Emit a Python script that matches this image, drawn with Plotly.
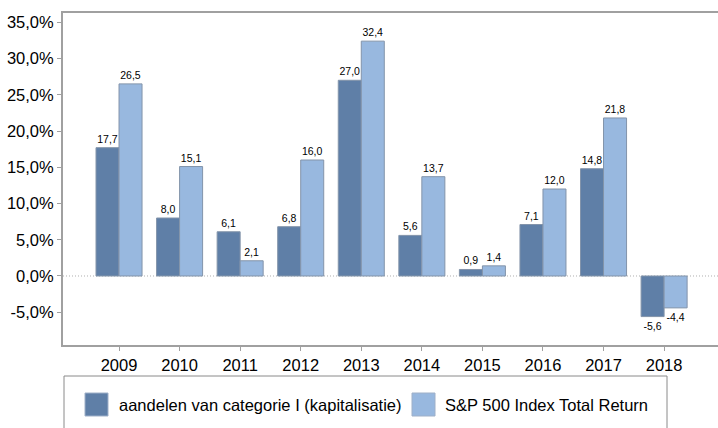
import plotly.graph_objects as go

# ---- data ----
years = ["2009", "2010", "2011", "2012", "2013", "2014", "2015", "2016", "2017", "2018"]
fund_values = [17.7, 8.0, 6.1, 6.8, 27.0, 5.6, 0.9, 7.1, 14.8, -5.6]
sp500_values = [26.5, 15.1, 2.1, 16.0, 32.4, 13.7, 1.4, 12.0, 21.8, -4.4]
series_names = ["aandelen van categorie I (kapitalisatie)", "S&P 500 Index Total Return"]
y_tick_values = [-5, 0, 5, 10, 15, 20, 25, 30, 35]


def nl(v, suffix=""):
    return f"{v:.1f}".replace(".", ",") + suffix


# ---- style ----
DARK = "#5F7FA7"
LIGHT = "#98B8DF"
EDGE = "#8394AA"
FONT = "Liberation Sans, Arial, sans-serif"
W, H = 718, 428
ML, MR, MT, MB = 63, 0, 13, 83


def px_x(p):
    return (p - ML) / (W - ML - MR)


def px_y(p):
    return (H - MB - p) / (H - MT - MB)


fig = go.Figure()
for name, vals, col in [(series_names[0], fund_values, DARK), (series_names[1], sp500_values, LIGHT)]:
    fig.add_trace(go.Bar(
        x=years, y=vals, name=name,
        marker=dict(color=col, line=dict(color=EDGE, width=1)),
        text=[nl(v) for v in vals], textposition="outside",
        textfont=dict(family=FONT, size=10.5, color="#000000"),
        constraintext="none", cliponaxis=False, showlegend=False,
    ))

shapes = [
    # dotted zero line
    dict(type="line", xref="paper", yref="y", x0=0, x1=1, y0=0, y1=0,
         line=dict(color="#B0B0B0", width=1, dash="1px,2px"), layer="below"),
    # legend frame
    dict(type="rect", xref="paper", yref="paper", x0=px_x(64), x1=px_x(667),
         y0=px_y(376), y1=px_y(440), line=dict(color="#8A8A8A", width=1)),
]
annotations = []
legend_items = [(85, 117, DARK, series_names[0]), (412, 443, LIGHT, series_names[1])]
for sx, tx, col, name in legend_items:
    shapes.append(dict(type="rect", xref="paper", yref="paper",
                       x0=px_x(sx), x1=px_x(sx + 23), y0=px_y(393), y1=px_y(416),
                       fillcolor=col, line=dict(color="#9FB0C8", width=1)))
    annotations.append(dict(xref="paper", yref="paper", x=px_x(tx), y=px_y(405),
                            xanchor="left", yanchor="middle", showarrow=False,
                            text=name, font=dict(family=FONT, size=16.5, color="#000000")))

fig.update_layout(
    width=W, height=H,
    margin=dict(l=ML, r=MR, t=MT, b=MB, pad=0),
    paper_bgcolor="white", plot_bgcolor="white",
    barmode="group", bargap=0.24, bargroupgap=0,
    font=dict(family=FONT, size=16.5, color="#000000"),
    shapes=shapes, annotations=annotations,
    xaxis=dict(type="category", range=[-0.925, 9.89], showgrid=False,
               showline=True, linecolor="#A0A0A0", linewidth=2, mirror=True,
               ticks="outside", ticklen=4, tickcolor="#A0A0A0",
               tickfont=dict(family=FONT, size=16.5, color="#000000")),
    yaxis=dict(range=[-9.52, 36.28], showgrid=False, zeroline=False,
               showline=True, linecolor="#A0A0A0", linewidth=2,
               ticks="outside", ticklen=4, tickcolor="#A0A0A0",
               tickvals=y_tick_values, ticktext=[nl(v, "%") for v in y_tick_values],
               tickfont=dict(family=FONT, size=16.5, color="#000000")),
)

fig.write_html("out.html")
